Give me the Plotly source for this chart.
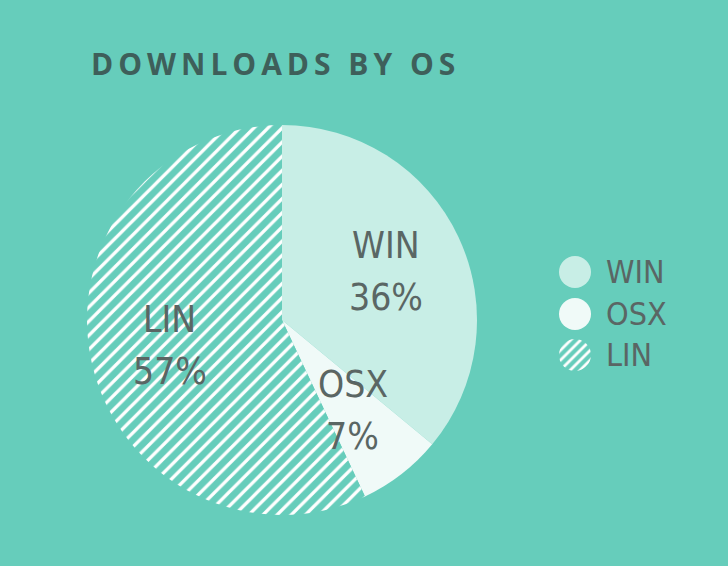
import math
import plotly.graph_objects as go

labels = ["WIN", "OSX", "LIN"]
values = [36, 7, 57]
title_text = "DOWNLOADS BY OS"

BG = "#66CDBB"
FILL = ["#C8EEE6", "#F0FAF8", BG]
TEXT = "#5A6664"
TITLE = "#3E5F5A"
W, H = 728, 566
LABEL_FONT = "DejaVu Sans Condensed, Liberation Sans Narrow, sans-serif"

def px(x):
    return x / W

def py(y):
    return 1 - y / H

# main pie geometry (pixels)
cx, cy, R = 282, 320, 195

fig = go.Figure()
fig.add_trace(go.Pie(
    labels=labels, values=values, sort=False, direction="clockwise", rotation=0,
    marker=dict(colors=FILL, line=dict(width=0), pattern=dict(
        shape=["", "", "/"], fgcolor=["#FFFFFF"] * 3, bgcolor=FILL, size=10, solidity=0.33)),
    textinfo="none", hoverinfo="label+percent", showlegend=False,
    domain=dict(x=[px(cx - R), px(cx + R)], y=[py(cy + R), py(cy - R)]),
))

# labels inside slices, placed at each slice's mid-angle
total = sum(values)
cum = 0
annotations = []
for lab, v in zip(labels, values):
    mid = (cum + v / 2) / total * 2 * math.pi
    cum += v
    rr = 0.59 * R
    x = cx + rr * math.sin(mid)
    y = cy - rr * math.cos(mid)
    pct = round(v / total * 100)
    annotations.append(dict(x=px(x), y=py(y - 26), xref="paper", yref="paper", text=lab,
                            showarrow=False, font=dict(family=LABEL_FONT, size=37, color=TEXT),
                            xanchor="center", yanchor="middle"))
    annotations.append(dict(x=px(x), y=py(y + 26), xref="paper", yref="paper", text=f"{pct}%",
                            showarrow=False, font=dict(family=LABEL_FONT, size=37, color=TEXT),
                            xanchor="center", yanchor="middle"))

# legend: small single-slice pies as circular swatches
leg_x, leg_r = 575, 16
leg_ys = [272, 314, 355]
for i, (lab, ly) in enumerate(zip(labels, leg_ys)):
    fig.add_trace(go.Pie(
        labels=[lab], values=[1], sort=False, textinfo="none", hoverinfo="skip", showlegend=False,
        marker=dict(colors=[FILL[i]], line=dict(width=0), pattern=dict(
            shape=["/" if i == 2 else ""], fgcolor=["#FFFFFF"], bgcolor=[FILL[i]], size=7, solidity=0.4)),
        domain=dict(x=[px(leg_x - leg_r), px(leg_x + leg_r)], y=[py(ly + leg_r), py(ly - leg_r)]),
    ))
    annotations.append(dict(x=px(604), y=py(ly), xref="paper", yref="paper", text=lab,
                            showarrow=False, font=dict(family=LABEL_FONT, size=32, color=TEXT),
                            xanchor="left", yanchor="middle"))

spaced = "\u2009".join(title_text)
annotations.append(dict(x=px(89), y=py(63), xref="paper", yref="paper", text=f"<b>{spaced}</b>",
                        showarrow=False, font=dict(family="Open Sans, sans-serif", size=30, color=TITLE),
                        xanchor="left", yanchor="middle"))

fig.update_layout(
    width=W, height=H, paper_bgcolor=BG, plot_bgcolor=BG,
    margin=dict(l=0, r=0, t=0, b=0), annotations=annotations,
)
fig.write_html("out.html")
